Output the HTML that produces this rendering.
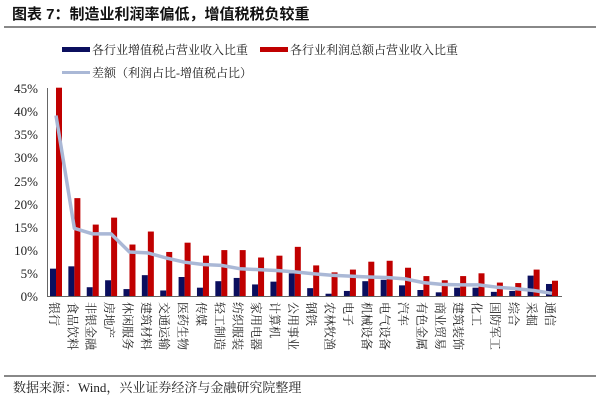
<!DOCTYPE html>
<html><head><meta charset="utf-8"><style>
body{margin:0;background:#fff;}
svg{display:block;}
</style></head><body>
<svg width="600" height="404" xmlns="http://www.w3.org/2000/svg" font-family="'Liberation Serif','Noto Serif CJK SC',serif">
<text x="12" y="19" font-size="15" font-weight="bold" font-family="'Liberation Sans','Noto Sans CJK SC',sans-serif" fill="#111">图表 7：制造业利润率偏低，增值税税负较重</text>
<rect x="4" y="26" width="592" height="2" fill="#888"/>
<rect x="62" y="47" width="28" height="5" fill="#0b0f5e"/>
<text x="92" y="54" font-size="12" fill="#222">各行业增值税占营业收入比重</text>
<rect x="260" y="47" width="28" height="5" fill="#c00000"/>
<text x="290" y="54" font-size="12" fill="#222">各行业利润总额占营业收入比重</text>
<rect x="62" y="71" width="28" height="3" fill="#aab8d6"/>
<text x="92" y="77" font-size="12" fill="#222">差额（利润占比-增值税占比）</text>
<g font-size="13" fill="#222" text-anchor="end">
<text x="38" y="93">45%</text><text x="38" y="116">40%</text><text x="38" y="139">35%</text><text x="38" y="162">30%</text><text x="38" y="186">25%</text><text x="38" y="209">20%</text><text x="38" y="232">15%</text><text x="38" y="255">10%</text><text x="38" y="278">5%</text><text x="38" y="301">0%</text>
</g>
<g transform="translate(0,296.5) scale(1,-1)">
<g fill="#0b0f5e">
<rect x="50" y="0" width="6" height="27.84"/>
<rect x="68.37" y="0" width="6" height="30.16"/>
<rect x="86.74" y="0" width="6" height="9.28"/>
<rect x="105.11" y="0" width="6" height="16.24"/>
<rect x="123.48" y="0" width="6" height="7.42"/>
<rect x="141.85" y="0" width="6" height="21.34"/>
<rect x="160.22" y="0" width="6" height="6.03"/>
<rect x="178.59" y="0" width="6" height="19.49"/>
<rect x="196.96" y="0" width="6" height="8.82"/>
<rect x="215.33" y="0" width="6" height="15.31"/>
<rect x="233.7" y="0" width="6" height="18.56"/>
<rect x="252.07" y="0" width="6" height="12.06"/>
<rect x="270.44" y="0" width="6" height="14.85"/>
<rect x="288.81" y="0" width="6" height="23.2"/>
<rect x="307.18" y="0" width="6" height="8.35"/>
<rect x="325.55" y="0" width="6" height="2.78"/>
<rect x="343.92" y="0" width="6" height="5.57"/>
<rect x="362.29" y="0" width="6" height="15.31"/>
<rect x="380.66" y="0" width="6" height="16.7"/>
<rect x="399.03" y="0" width="6" height="11.14"/>
<rect x="417.4" y="0" width="6" height="6.5"/>
<rect x="435.77" y="0" width="6" height="4.18"/>
<rect x="454.14" y="0" width="6" height="8.82"/>
<rect x="472.51" y="0" width="6" height="8.82"/>
<rect x="490.88" y="0" width="6" height="4.64"/>
<rect x="509.25" y="0" width="6" height="5.57"/>
<rect x="527.62" y="0" width="6" height="20.88"/>
<rect x="545.99" y="0" width="6" height="12.53"/>
</g>
<g fill="#c00000">
<rect x="56" y="0" width="6" height="208.8"/>
<rect x="74.37" y="0" width="6" height="98.37"/>
<rect x="92.74" y="0" width="6" height="71.92"/>
<rect x="111.11" y="0" width="6" height="78.88"/>
<rect x="129.48" y="0" width="6" height="51.97"/>
<rect x="147.85" y="0" width="6" height="64.96"/>
<rect x="166.22" y="0" width="6" height="44.54"/>
<rect x="184.59" y="0" width="6" height="53.82"/>
<rect x="202.96" y="0" width="6" height="40.83"/>
<rect x="221.33" y="0" width="6" height="46.4"/>
<rect x="239.7" y="0" width="6" height="46.4"/>
<rect x="258.07" y="0" width="6" height="38.98"/>
<rect x="276.44" y="0" width="6" height="40.83"/>
<rect x="294.81" y="0" width="6" height="49.65"/>
<rect x="313.18" y="0" width="6" height="31.09"/>
<rect x="331.55" y="0" width="6" height="24.13"/>
<rect x="349.92" y="0" width="6" height="26.91"/>
<rect x="368.29" y="0" width="6" height="34.8"/>
<rect x="386.66" y="0" width="6" height="35.73"/>
<rect x="405.03" y="0" width="6" height="28.77"/>
<rect x="423.4" y="0" width="6" height="20.42"/>
<rect x="441.77" y="0" width="6" height="16.24"/>
<rect x="460.14" y="0" width="6" height="20.42"/>
<rect x="478.51" y="0" width="6" height="23.2"/>
<rect x="496.88" y="0" width="6" height="13.92"/>
<rect x="515.25" y="0" width="6" height="13.46"/>
<rect x="533.62" y="0" width="6" height="26.91"/>
<rect x="551.99" y="0" width="6" height="15.78"/>
</g>
</g>
<polyline fill="none" stroke="#aab8d6" stroke-width="3.5" stroke-linejoin="round" points="56,115.5 74.37,228.3 92.74,233.9 111.11,233.9 129.48,252 147.85,252.9 166.22,258 184.59,262.2 202.96,264.5 221.33,265.4 239.7,268.7 258.07,269.6 276.44,270.5 294.81,271.9 313.18,273.8 331.55,275.2 349.92,276.1 368.29,277 386.66,277.5 405.03,278.9 423.4,282.6 441.77,284.4 460.14,284.9 478.51,284.9 496.88,287.2 515.25,288.6 533.62,290.5 551.99,293.3"/>
<line x1="47.5" y1="88" x2="47.5" y2="297" stroke="#666"/>
<line x1="47" y1="296.5" x2="562" y2="296.5" stroke="#666"/>
<g font-size="12" fill="#222">
<text transform="translate(50,302) rotate(90)">银行</text>
<text transform="translate(68.4,302) rotate(90)">食品饮料</text>
<text transform="translate(86.7,302) rotate(90)">非银金融</text>
<text transform="translate(105.1,302) rotate(90)">房地产</text>
<text transform="translate(123.5,302) rotate(90)">休闲服务</text>
<text transform="translate(141.9,302) rotate(90)">建筑材料</text>
<text transform="translate(160.2,302) rotate(90)">交通运输</text>
<text transform="translate(178.6,302) rotate(90)">医药生物</text>
<text transform="translate(197,302) rotate(90)">传媒</text>
<text transform="translate(215.3,302) rotate(90)">轻工制造</text>
<text transform="translate(233.7,302) rotate(90)">纺织服装</text>
<text transform="translate(252.1,302) rotate(90)">家用电器</text>
<text transform="translate(270.4,302) rotate(90)">计算机</text>
<text transform="translate(288.8,302) rotate(90)">公用事业</text>
<text transform="translate(307.2,302) rotate(90)">钢铁</text>
<text transform="translate(325.6,302) rotate(90)">农林牧渔</text>
<text transform="translate(343.9,302) rotate(90)">电子</text>
<text transform="translate(362.3,302) rotate(90)">机械设备</text>
<text transform="translate(380.7,302) rotate(90)">电气设备</text>
<text transform="translate(399,302) rotate(90)">汽车</text>
<text transform="translate(417.4,302) rotate(90)">有色金属</text>
<text transform="translate(435.8,302) rotate(90)">商业贸易</text>
<text transform="translate(454.1,302) rotate(90)">建筑装饰</text>
<text transform="translate(472.5,302) rotate(90)">化工</text>
<text transform="translate(490.9,302) rotate(90)">国防军工</text>
<text transform="translate(509.3,302) rotate(90)">综合</text>
<text transform="translate(527.6,302) rotate(90)">采掘</text>
<text transform="translate(546,302) rotate(90)">通信</text>
</g>
<rect x="4" y="375" width="592" height="2" fill="#888"/>
<text x="13" y="392" font-size="13" fill="#222">数据来源：Wind，兴业证券经济与金融研究院整理</text>
</svg>
</body></html>
